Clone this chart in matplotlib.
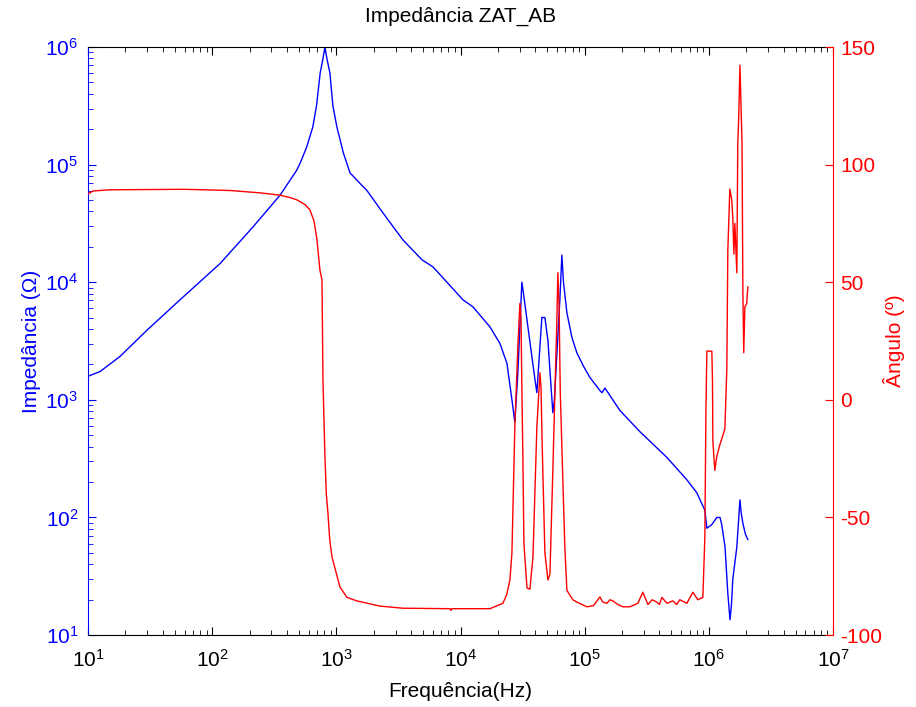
"""Impedance magnitude and phase of ZAT_AB versus frequency (plotyy style)."""

import matplotlib
matplotlib.use("Agg")
import matplotlib.pyplot as plt

FONT = ["Liberation Sans Narrow", "Liberation Sans", "DejaVu Sans"]
plt.rcParams["font.family"] = FONT
plt.rcParams["mathtext.fontset"] = "custom"
plt.rcParams["mathtext.rm"] = "Liberation Sans"
plt.rcParams["mathtext.it"] = "Liberation Sans"
plt.rcParams["mathtext.bf"] = "Liberation Sans"
plt.rcParams["axes.unicode_minus"] = False

BLUE = "#0000ff"
RED = "#ff0000"

# Impedance magnitude (ohm)
z_freq = [10, 12.5, 18.1, 29.7, 55, 116, 213, 352, 478, 509, 577, 646, 692,
          741, 780, 809, 840, 887, 938, 1010, 1138, 1288, 1549, 1762, 2371,
          3436, 4900, 6000, 10470, 12600, 17260, 20750, 23660, 25940, 27400,
          28970, 31190, 32200, 34900, 39800, 41200, 45200, 47800, 50500,
          55400, 57000, 63100, 65500, 67500, 71900, 78900, 86500, 98600,
          110200, 132500, 137900, 145600, 191900, 278000, 459000, 665000,
          800000, 929000, 964000, 1.057e6, 1.159e6, 1.23e6, 1.27e6, 1.35e6,
          1.42e6, 1.48e6, 1.52e6, 1.56e6, 1.68e6, 1.78e6, 1.82e6, 1.88e6,
          1.97e6, 2.06e6]
z_mag = [1585, 1740, 2340, 3890, 7080, 14450, 29500, 55000, 89100, 102000,
         141000, 209000, 316000, 603000, 794000, 1.0e6, 794000, 603000,
         316000, 209000, 126000, 85100, 69200, 60300, 38900, 22900, 15500,
         13500, 7080, 6170, 4170, 3020, 2040, 1000, 646, 1700, 10000, 7900,
         4170, 1480, 1150, 5010, 5010, 3240, 776, 1000, 7080, 17000, 10000,
         5500, 3390, 2510, 1900, 1550, 1200, 1150, 1260, 813, 537, 324, 209,
         162, 115, 81, 87, 100, 100, 87, 56, 23, 13.5, 18, 30, 56, 141, 110,
         89, 72, 65]

# Phase angle (degrees)
a_freq = [10, 11, 15, 60, 139, 243, 352, 423, 482, 559, 613, 661, 698, 738,
          766, 780, 809, 830, 855, 885, 922, 1069, 1217, 1465, 2245, 3436,
          8220, 8350, 8500, 17270, 21930, 23500, 25000, 25940, 27400, 28970,
          30080, 30700, 31190, 31800, 32400, 34300, 36200, 38300, 39700,
          41200, 43600, 44500, 45500, 47800, 50600, 52500, 55400, 59700,
          60800, 62200, 63600, 69200, 71900, 80300, 86500, 104300, 118000,
          132500, 140000, 151000, 160000, 168700, 185000, 203000, 231000,
          268000, 294000, 323000, 350000, 381000, 400000, 419000, 459000,
          513000, 550000, 583000, 665000, 743000, 815000, 895000, 929000,
          947000, 964000, 1.057e6, 1.07e6, 1.077e6, 1.117e6, 1.159e6, 1.228e6,
          1.346e6, 1.396e6, 1.422e6, 1.476e6, 1.53e6, 1.56e6, 1.59e6, 1.62e6,
          1.68e6, 1.71e6, 1.74e6, 1.78e6, 1.85e6, 1.88e6, 1.91e6, 1.95e6,
          2.02e6, 2.06e6]
a_deg = [87.5, 88.8, 89.3, 89.5, 89.0, 88.0, 87.0, 86.0, 85.0, 83.0, 80.7,
         76.0, 68.0, 55.0, 51.0, 8.5, -24.0, -40.0, -48.0, -59.6, -66.8,
         -79.6, -84.0, -85.5, -87.7, -88.6, -88.8, -89.6, -88.8, -88.8, -86.5,
         -83.0, -76.6, -65.0, -11.0, 23.0, 41.0, 35.0, 5.0, -25.0, -61.0,
         -80.0, -80.5, -67.0, -40.0, -11.5, 11.5, 5.0, -20.0, -65.0, -76.6,
         -74.0, -30.0, 34.0, 54.0, 40.0, 3.0, -62.6, -81.0, -85.0, -86.0,
         -88.0, -87.5, -83.8, -86.0, -86.5, -85.0, -85.5, -87.0, -88.0, -88.0,
         -86.5, -81.8, -87.0, -85.0, -86.0, -87.0, -84.0, -86.5, -85.5, -87.0,
         -85.0, -86.5, -81.8, -85.0, -84.0, -58.0, -5.0, 20.7, 20.7, 7.5,
         -17.5, -30.0, -24.0, -19.0, -12.4, 13.5, 63.7, 89.6, 85.0, 77.0,
         62.0, 75.0, 54.0, 109.0, 120.0, 142.3, 109.0, 45.8, 20.0, 39.5, 41.0,
         48.0]

x_ticks = [1e1, 1e2, 1e3, 1e4, 1e5, 1e6, 1e7]
z_ticks = [1e1, 1e2, 1e3, 1e4, 1e5, 1e6]
a_ticks = [-100, -50, 0, 50, 100, 150]

fig = plt.figure(figsize=(9.16, 7.07), dpi=100)
ax1 = fig.add_axes([0.0961, 0.1018, 0.8133, 0.8317])
ax1.plot(z_freq, z_mag, color=BLUE, linewidth=1.0)
ax1.set_xscale("log")
ax1.set_yscale("log")
ax1.set_xlim(1e1, 1e7)
ax1.set_ylim(1e1, 1e6)
ax1.set_xticks(x_ticks)
ax1.set_yticks(z_ticks)

ax2 = ax1.twinx()
ax2.plot(a_freq, a_deg, color=RED, linewidth=1.0)
ax2.set_ylim(-100, 150)
ax2.set_yticks(a_ticks)

# MATLAB look: inward ticks, coloured y axes
ax1.tick_params(axis="x", which="both", direction="in", top=True,
                labelsize=15, pad=10)
ax1.tick_params(axis="x", which="major", length=6)
ax1.tick_params(axis="x", which="minor", length=3.5)
ax1.tick_params(axis="y", which="both", direction="in", colors=BLUE,
                labelsize=15, left=True, right=False, pad=7)
ax1.tick_params(axis="y", which="major", length=6)
ax1.tick_params(axis="y", which="minor", length=3.5)
ax2.tick_params(axis="y", direction="in", colors=RED, labelsize=15,
                length=6, pad=5)

ax1.spines["left"].set_color(BLUE)
ax1.spines["right"].set_visible(False)
ax2.spines["right"].set_color(RED)
for side in ("left", "top", "bottom"):
    ax2.spines[side].set_visible(False)

ax1.set_title("Impedância ZAT_AB", fontsize=15, pad=18)
ax1.set_xlabel("Frequência(Hz)", fontsize=15, labelpad=8)
ax1.set_ylabel("Impedância (Ω)", fontsize=15, color=BLUE, labelpad=3)
ax2.set_ylabel("Ângulo (º)", fontsize=15, color=RED, labelpad=1)

fig.savefig("out.png", dpi=100, facecolor="white")
